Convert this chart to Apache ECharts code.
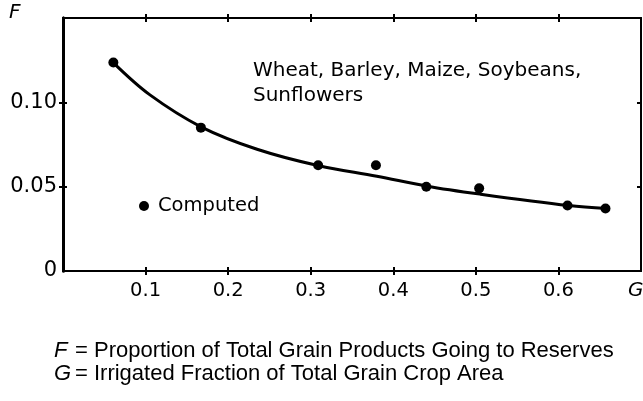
<!DOCTYPE html>
<html>
<head>
<meta charset="utf-8">
<script src="https://cdn.jsdelivr.net/npm/echarts@6/dist/echarts.min.js"></script>
<style>
html,body{margin:0;padding:0;background:#fff;}
#c{width:643px;height:401px;}
</style>
</head>
<body>
<div id="c"></div>
<script>
// Computed points (G, F)
var computedG = [0.061, 0.167, 0.309, 0.379, 0.440, 0.504, 0.611, 0.657];
var computedF = [0.1236, 0.0850, 0.0627, 0.0627, 0.0500, 0.0490, 0.0388, 0.0371];
// Fitted curve
var curveG = [0.0611, 0.1053, 0.1671, 0.2350, 0.3099, 0.3801, 0.4407, 0.5048, 0.6126, 0.6586];
var curveF = [0.1234, 0.1044, 0.0855, 0.0722, 0.0624, 0.0562, 0.0503, 0.0456, 0.0388, 0.0370];
// Axis ticks
var xTicks = [0.1, 0.2, 0.3, 0.4, 0.5, 0.6];
var yTicks = [0, 0.05, 0.10];
var yTickInner = [0.05, 0.10];
var yTickLabels = ['0', '0.05', '0.10'];
var seriesName = 'Computed';
var annotation = ['Wheat, Barley, Maize, Soybeans,', 'Sunflowers'];
var footnotes = [['F', '= Proportion of Total Grain Products Going to Reserves'], ['G', '= Irrigated Fraction of Total Grain Crop Area']];

var FONT = 'DejaVu Sans';
var black = '#000';

function pairs(a, b) { return a.map(function (v, i) { return [v, b[i]]; }); }

function xAx(pos, inside, labels, lineW) {
  return {
    type: 'value', position: pos, min: 0, max: 0.7, interval: 0.1,
    splitLine: { show: false },
    axisLine: { show: true, onZero: false, lineStyle: { color: black, width: lineW } },
    axisTick: { show: true, inside: inside, length: 4, customValues: xTicks, lineStyle: { color: black, width: 2 } },
    axisLabel: labels ? { show: true, customValues: xTicks, color: black, fontFamily: FONT, fontSize: 19.5, margin: 10,
      formatter: function (v) { return String(Math.round(v * 10) / 10); } } : { show: false }
  };
}
function yAx(pos, inside, labels, lineW, tickVals) {
  return {
    type: 'value', position: pos, min: 0, max: 0.15, interval: 0.05,
    splitLine: { show: false },
    axisLine: { show: true, onZero: false, lineStyle: { color: black, width: lineW } },
    axisTick: { show: true, inside: inside, length: 4, customValues: tickVals, lineStyle: { color: black, width: 2 } },
    axisLabel: labels ? { show: true, customValues: yTicks, color: black, fontFamily: FONT, fontSize: 21, margin: 6,
      formatter: function (v) { var i = yTicks.indexOf(v); return i >= 0 ? yTickLabels[i] : ''; } } : { show: false }
  };
}

var chart = echarts.init(document.getElementById('c'), null, { renderer: 'canvas' });
chart.setOption({
  backgroundColor: '#fff',
  animation: false,
  grid: { left: 63, top: 18, right: 2, bottom: 130 },
  xAxis: [xAx('bottom', false, true, 2), xAx('bottom', true, false, 2), xAx('top', false, false, 2), xAx('top', true, false, 2)],
  yAxis: [yAx('left', false, true, 3, yTickInner), yAx('left', true, false, 3, yTickInner), yAx('right', true, false, 2, yTickInner)],
  legend: {
    data: [{ name: seriesName, icon: 'circle' }],
    left: 134, top: 191, itemWidth: 10, itemHeight: 10,
    textStyle: { color: black, fontFamily: FONT, fontSize: 19.5, padding: [0, 0, 0, 4] }
  },
  series: [
    { type: 'line', name: 'curve', data: pairs(curveG, curveF), smooth: 0.35, showSymbol: false, symbol: 'none',
      lineStyle: { color: black, width: 3 }, xAxisIndex: 0, yAxisIndex: 0, z: 2 },
    { type: 'scatter', name: seriesName, data: pairs(computedG, computedF), symbol: 'circle', symbolSize: 10,
      itemStyle: { color: black, opacity: 1 }, xAxisIndex: 0, yAxisIndex: 0, z: 3 }
  ],
  graphic: [
    { type: 'text', left: 253, top: 61, style: { text: annotation[0], fill: black, font: '20px "DejaVu Sans"' } },
    { type: 'text', left: 253, top: 86, style: { text: annotation[1], fill: black, font: '20px "DejaVu Sans"' } },
    { type: 'text', left: 9, top: 3, style: { text: 'F', fill: black, font: 'italic 20px "DejaVu Sans"' } },
    { type: 'text', left: 628, top: 281, style: { text: 'G', fill: black, font: 'italic 20px "DejaVu Sans"' } },
    { type: 'text', left: 54, top: 340, style: { text: footnotes[0][0], fill: black, font: 'italic 22px "Liberation Sans"' } },
    { type: 'text', left: 75, top: 340, style: { text: footnotes[0][1], fill: black, font: '22px "Liberation Sans"' } },
    { type: 'text', left: 54, top: 363, style: { text: footnotes[1][0], fill: black, font: 'italic 22px "Liberation Sans"' } },
    { type: 'text', left: 75, top: 363, style: { text: footnotes[1][1], fill: black, font: '22px "Liberation Sans"' } }
  ]
});
</script>
</body>
</html>
